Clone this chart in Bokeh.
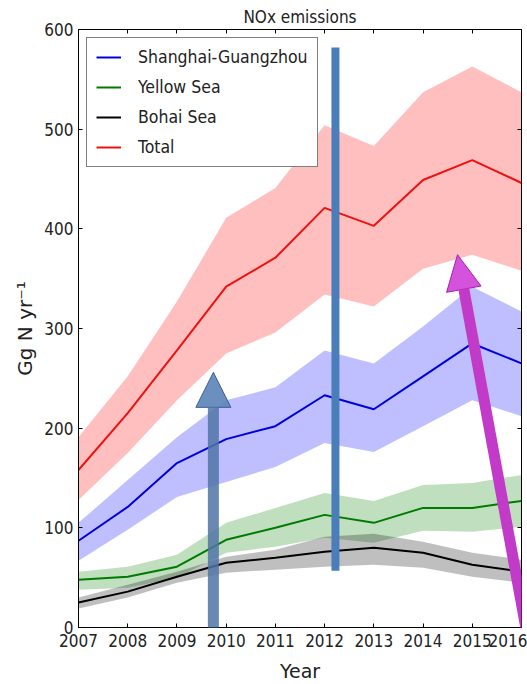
from bokeh.plotting import figure
from bokeh.models import (Legend, LegendItem, LinearAxis, Arrow, NormalHead,
                          FixedTicker, Range1d)
from bokeh.embed import file_html
from bokeh.resources import INLINE

# ---------------- data ----------------
years = [2007, 2008, 2009, 2010, 2011, 2012, 2013, 2014, 2015, 2016]

shanghai_guangzhou = [87, 121, 165, 189, 202, 233, 219, 252, 285, 265]
shanghai_guangzhou_hi = [105, 148, 191, 228, 241, 278, 265, 302, 342, 317]
shanghai_guangzhou_lo = [67, 98, 131, 146, 161, 185, 176, 202, 228, 212]

yellow_sea = [48, 51, 61, 88, 100, 113, 105, 120, 120, 127]
yellow_sea_hi = [56, 61, 73, 105, 120, 135, 127, 143, 145, 153]
yellow_sea_lo = [38, 40, 50, 75, 81, 90, 85, 97, 96, 101]

bohai_sea = [25, 36, 51, 65, 70, 76, 80, 75, 63, 56]
bohai_sea_hi = [30, 43, 56, 71, 78, 91, 94, 86, 75, 68]
bohai_sea_lo = [19, 30, 45, 55, 58, 61, 63, 60, 51, 45]

total = [158, 215, 278, 342, 371, 421, 403, 449, 469, 446]
total_hi = [191, 252, 327, 411, 441, 504, 483, 537, 563, 537]
total_lo = [128, 175, 228, 275, 296, 334, 322, 360, 374, 358]

y_ticks = [0, 100, 200, 300, 400, 500, 600]
series_names = ["Shanghai-Guangzhou", "Yellow Sea", "Bohai Sea", "Total"]

# ---------------- overlay annotations drawn on top of the chart ----------------
overlay_bar = dict(x=2012.22, y0=57, y1=582)               # blue vertical bar
overlay_arrow_blue = dict(x0=2009.74, y0=-60, x1=2009.74, y1=256)
overlay_arrow_purple = dict(x0=2016.31, y0=-60, x1=2014.70, y1=374)
# partly visible frame at the very top, canvas pixels (left/right x, bottom/top y)
overlay_frame = dict(x0=122, x1=487, y0=4, y1=-10)

FONT = "DejaVu Sans Condensed"
TXT = "#222222"

p = figure(width=527, height=684, output_backend="svg", toolbar_location=None,
           x_range=Range1d(2007, 2016), y_range=Range1d(0, 600),
           min_border_left=78, min_border_right=6, min_border_top=29,
           min_border_bottom=56, title="NOx emissions")
p.margin = (0, 0, 0, 0)

p.title.align = "center"
p.title.text_font = FONT
p.title.text_font_size = "17px"
p.title.text_font_style = "normal"
p.title.text_color = TXT
p.title.standoff = 6

p.xgrid.visible = False
p.ygrid.visible = False
p.background_fill_color = "white"
p.border_fill_color = "white"
p.outline_line_color = "black"
p.outline_line_width = 1

for ax in (p.xaxis[0], p.yaxis[0]):
    ax.major_tick_in = 4
    ax.major_tick_out = 0
    ax.minor_tick_line_color = None
    ax.axis_line_color = "black"
    ax.major_tick_line_color = "black"
    ax.major_label_text_font = FONT
    ax.major_label_text_font_size = "17px"
    ax.major_label_text_color = TXT
    ax.axis_label_text_font = "DejaVu Sans"
    ax.axis_label_text_font_size = "19px"
    ax.axis_label_text_font_style = "normal"
    ax.axis_label_text_color = TXT

p.yaxis.axis_label_text_font_size = "20px"
p.xaxis.ticker = FixedTicker(ticks=years)
p.yaxis.ticker = FixedTicker(ticks=y_ticks)
p.xaxis.axis_label = "Year"
p.yaxis.axis_label = "Gg N yr\u207b\u00b9"
p.xaxis.major_label_standoff = 6
p.yaxis.major_label_standoff = 5
p.xaxis.axis_label_standoff = 10
p.yaxis.axis_label_standoff = 4

# ticks on the top and right edges (no labels)
top_ax = LinearAxis(ticker=FixedTicker(ticks=[], minor_ticks=years),
                    minor_tick_in=4, minor_tick_out=0, minor_tick_line_color="black",
                    major_tick_line_color=None, major_label_standoff=0)
right_ax = LinearAxis(ticker=FixedTicker(ticks=[], minor_ticks=y_ticks),
                      minor_tick_in=4, minor_tick_out=0, minor_tick_line_color="black",
                      major_tick_line_color=None, major_label_standoff=0)
p.add_layout(top_ax, "above")
p.add_layout(right_ax, "right")

series = [
    (shanghai_guangzhou, shanghai_guangzhou_lo, shanghai_guangzhou_hi, "#0000dd", "#0000ff"),
    (yellow_sea, yellow_sea_lo, yellow_sea_hi, "#007a00", "#008000"),
    (bohai_sea, bohai_sea_lo, bohai_sea_hi, "#000000", "#000000"),
    (total, total_lo, total_hi, "#ee1111", "#ff0000"),
]
items = []
for name, (vals, lo, hi, lc, fc) in zip(series_names, series):
    p.varea(x=years, y1=lo, y2=hi, fill_color=fc, fill_alpha=0.25)
    r = p.line(years, vals, line_color=lc, line_width=2)
    items.append(LegendItem(label=name, renderers=[r]))

legend = Legend(items=items, location="top_left", margin=8, padding=9, spacing=10,
                label_height=20, glyph_height=20, glyph_width=25, label_standoff=17,
                border_line_color="black", border_line_width=1,
                label_text_font=FONT, label_text_font_size="17.5px", label_text_color=TXT,
                background_fill_color="white", background_fill_alpha=1)
p.add_layout(legend)

# overlays
p.segment(x0=[overlay_bar["x"]], y0=[overlay_bar["y0"]], x1=[overlay_bar["x"]],
          y1=[overlay_bar["y1"]], line_color="#4a7ebb", line_width=8)
p.add_layout(Arrow(x_start=overlay_arrow_blue["x0"], y_start=overlay_arrow_blue["y0"],
                   x_end=overlay_arrow_blue["x1"], y_end=overlay_arrow_blue["y1"],
                   line_color="#4f74a6", line_width=11, line_alpha=0.85,
                   end=NormalHead(size=35, fill_color="#5b84b8", line_color="#3d5f8f",
                                  line_width=1, fill_alpha=0.9)))
p.add_layout(Arrow(x_start=overlay_arrow_purple["x0"], y_start=overlay_arrow_purple["y0"],
                   x_end=overlay_arrow_purple["x1"], y_end=overlay_arrow_purple["y1"],
                   line_color="#c13ac8", line_width=11,
                   end=NormalHead(size=35, fill_color="#d452dc", line_color="#a41fab",
                                  line_width=1)))
f = overlay_frame
for (xs, ys_, xe, ye) in [(f["x0"], f["y0"], f["x1"], f["y0"]),
                          (f["x0"], f["y0"], f["x0"], f["y1"]),
                          (f["x1"], f["y0"], f["x1"], f["y1"])]:
    p.add_layout(Arrow(x_start=xs, y_start=ys_, x_end=xe, y_end=ye, end=None,
                       start_units="canvas", end_units="canvas",
                       line_color="#4a7ebb", line_width=4, line_cap="round"))

open("out.html", "w").write(file_html(p, INLINE))
